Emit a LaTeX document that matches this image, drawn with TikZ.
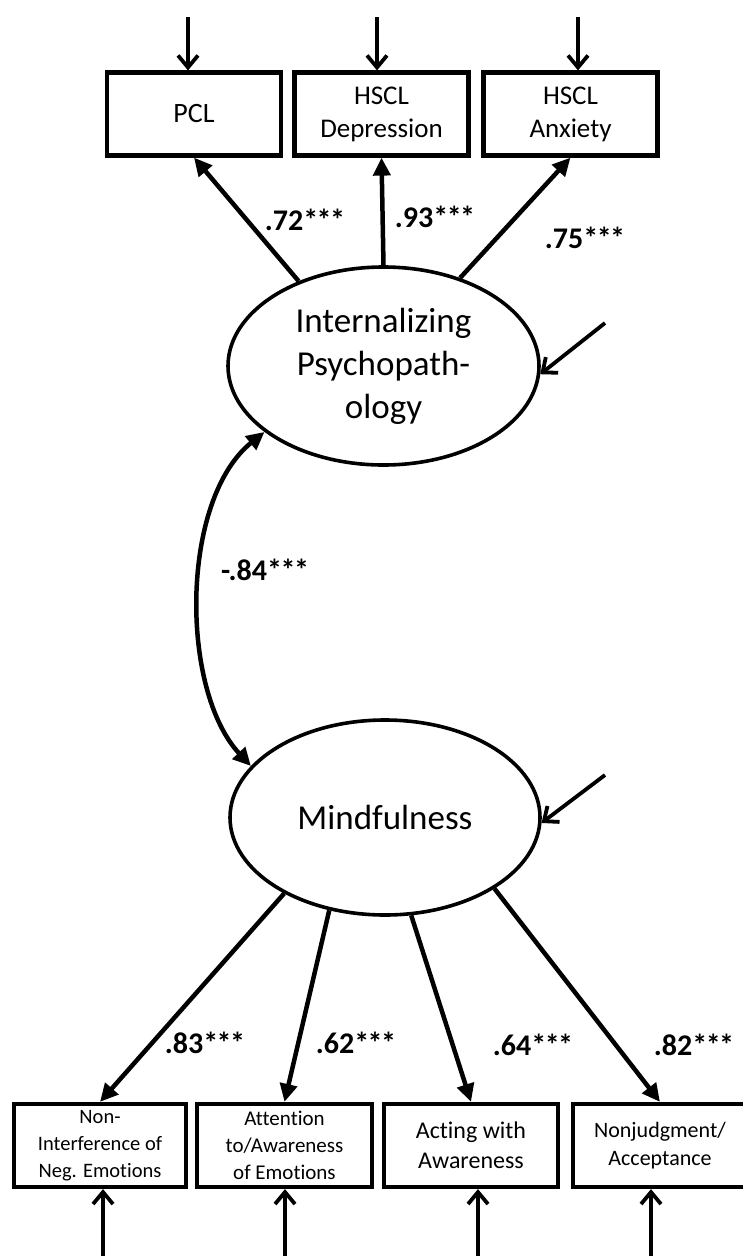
\documentclass[tikz,border=0pt]{standalone}
\usepackage{fontspec}
\setmainfont{Carlito}[Ligatures={NoCommon}]
\usetikzlibrary{arrows.meta,shapes.geometric}
\tikzset{
  obsbox/.style={draw, line width=4.2pt, rectangle, inner sep=0pt, align=center,
    minimum width=174pt, minimum height=83pt},
  latent/.style={draw, line width=3.6pt, ellipse, inner sep=0pt, align=center,
    font=\fontsize{35}{43}\selectfont},
  loadarrow/.style={line width=4.5pt, -{Triangle[length=18pt,width=17pt]}},
  resarrow/.style={line width=3.8pt, -{Straight Barb[length=12pt,width=20pt]}},
  covarrow/.style={line width=4.5pt, {Triangle[length=18pt,width=17pt]}-{Triangle[length=18pt,width=17pt]}},
  coef/.style={font=\fontsize{30}{34}\selectfont\bfseries, inner sep=0pt}
}
\newcommand{\stars}{*\kern-1.5pt*\kern-1.5pt*}
\begin{document}
\begin{tikzpicture}[x=1pt,y=-1pt]
\useasboundingbox (0,0) rectangle (743,1256);
% top observed
\node[obsbox, font=\fontsize{28}{33}\selectfont] (pcl) at (194,114) {PCL};
\node[obsbox, font=\fontsize{27}{33}\selectfont] (dep) at (381.5,114) {HSCL\\Depression};
\node[obsbox, font=\fontsize{27}{33}\selectfont] (anx) at (570.5,114) {HSCL\\Anxiety};
% latents
\node[latent, minimum width=311pt, minimum height=198pt] (int) at (383.5,366) {Internalizing\\Psychopath-\\ology};
\node[latent, minimum width=310pt, minimum height=195pt] (mind) at (385,817.5) {Mindfulness};
% bottom observed
\node[obsbox, minimum width=172pt, minimum height=83pt, font=\fontsize{20.5}{26.7}\selectfont] (nie) at (100,1145.5) {Non-\\Interference of\\Neg. Emotions};
\node[obsbox, minimum width=175pt, minimum height=83pt, font=\fontsize{21}{26.7}\selectfont] (att) at (284.5,1145.5) {Attention\\to/Awareness\\of Emotions};
\node[obsbox, minimum width=174pt, minimum height=83pt, font=\fontsize{24}{30}\selectfont] (act) at (471,1145.5) {Acting with\\Awareness};
\node[obsbox, minimum width=174pt, minimum height=83pt, font=\fontsize{22}{27.5}\selectfont] (nja) at (660,1145.5) {Nonjudgment/\\Acceptance};
% residual start points
\coordinate (rp) at (188,17);
\coordinate (rd) at (377,17);
\coordinate (ra) at (578,17);
\coordinate (ri) at (605,323);
\coordinate (rm) at (605,775);
\coordinate (rn) at (103,1260);
\coordinate (rt) at (285,1260);
\coordinate (rc) at (478,1260);
\coordinate (rj) at (651,1260);
% residual arrows
\draw[resarrow] (rp) -- (rp |- pcl.north);
\draw[resarrow] (rd) -- (rd |- dep.north);
\draw[resarrow] (ra) -- (ra |- anx.north);
\draw[resarrow] (ri) -- (int.-3);
\draw[resarrow] (rm) -- (mind.-2);
\draw[resarrow] (rn) -- (rn |- nie.south);
\draw[resarrow] (rt) -- (rt |- att.south);
\draw[resarrow] (rc) -- (rc |- act.south);
\draw[resarrow] (rj) -- (rj |- nja.south);
% loadings
\draw[loadarrow] (int.135) -- (pcl.south);
\draw[loadarrow] (int.90) -- (dep.south);
\draw[loadarrow] (int.49.5) -- (anx.south);
\draw[loadarrow] (mind.217) -- (nie.north);
\draw[loadarrow] (mind.239.3) -- (att.north);
\draw[loadarrow] (mind.285.9) -- (act.north);
\draw[loadarrow] (mind.327.4) -- (nja.north);
% covariance
\draw[covarrow] (int.209.5) .. controls (180,500) and (180,690) .. (mind.159);
% coefficients
\node[coef] (c1) at (305,220) {.72\stars};
\node[coef] (c2) at (435,217) {.93\stars};
\node[coef] (c3) at (585,238) {.75\stars};
\node[coef] (c4) at (265,570) {-.84\stars};
\node[coef] (c5) at (205,1043) {.83\stars};
\node[coef] (c6) at (356,1043) {.62\stars};
\node[coef] (c7) at (533,1045) {.64\stars};
\node[coef] (c8) at (694,1045) {.82\stars};
\end{tikzpicture}
\end{document}
